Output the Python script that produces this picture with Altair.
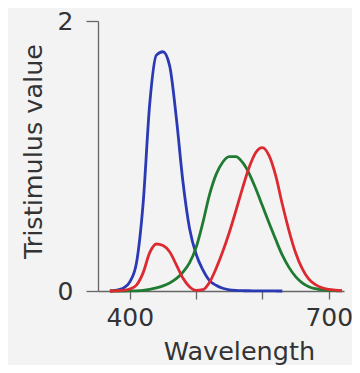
import altair as alt
import pandas as pd

wavelength = [370, 380, 390, 400, 410, 420, 430, 440, 450, 460, 470, 480, 490, 500,
              510, 520, 530, 540, 550, 560, 570, 580, 590, 600, 610, 620, 630, 640,
              650, 660, 670, 680, 690, 700, 710, 720]
x_bar = [0.0, 0.0014, 0.0042, 0.0143, 0.0435, 0.1344, 0.2839, 0.3483, 0.3362, 0.2908,
         0.1954, 0.0956, 0.0320, 0.0049, 0.0093, 0.0633, 0.1655, 0.2904, 0.4334, 0.5945,
         0.7621, 0.9163, 1.0263, 1.0622, 1.0026, 0.8544, 0.6424, 0.4479, 0.2835, 0.1649,
         0.0874, 0.0468, 0.0227, 0.0114, 0.0058, 0.0029]
y_bar = [0.0, 0.0000, 0.0001, 0.0004, 0.0012, 0.0040, 0.0116, 0.0230, 0.0380, 0.0600,
         0.0910, 0.1390, 0.2080, 0.3230, 0.5030, 0.7100, 0.8620, 0.9540, 0.9950, 0.9950,
         0.9520, 0.8700, 0.7570, 0.6310, 0.5030, 0.3810, 0.2650, 0.1750, 0.1070, 0.0610,
         0.0320, 0.0170, 0.0082, 0.0041, 0.0021, 0.0010]
z_bar = [0.0, 0.0065, 0.0201, 0.0679, 0.2074, 0.6456, 1.3856, 1.7471, 1.7721, 1.6692,
         1.2876, 0.8130, 0.4652, 0.2720, 0.1582, 0.0783, 0.0422, 0.0203, 0.0088, 0.0039,
         0.0021, 0.0017, 0.0011, 0.0008, 0.0003, 0.0002, 0.0, None, None, None,
         None, None, None, None, None, None]

rows = []
for name, vals in [("z", z_bar), ("y", y_bar), ("x", x_bar)]:
    for w, v in zip(wavelength, vals):
        if v is not None:
            rows.append({"wavelength": w, "value": v, "curve": name})
df = pd.DataFrame(rows)

FONT = "DejaVu Sans"
TXT = "#333333"

chart = alt.Chart(df).mark_line(strokeWidth=2.8, interpolate="monotone").encode(
    x=alt.X("wavelength:Q",
            scale=alt.Scale(domain=[352, 723], nice=False, zero=False),
            axis=alt.Axis(values=[400, 500, 600, 700], title="Wavelength",
                          labelExpr="datum.value == 400 || datum.value == 700 ? datum.label : ''",
                          grid=False, tickSize=8, labelPadding=6,
                          titleX=141, titleY=68, titleBaseline="alphabetic",
                          titleAlign="center")),
    y=alt.Y("value:Q",
            scale=alt.Scale(domain=[0, 2], nice=False),
            axis=alt.Axis(values=[0, 2], title="Tristimulus value", grid=False,
                          tickSize=12, labelPadding=13,
                          titleX=-57, titleY=130, titleBaseline="alphabetic",
                          titleAlign="center", titleAngle=270)),
    color=alt.Color("curve:N",
                    scale=alt.Scale(domain=["x", "y", "z"],
                                    range=["#dc2a30", "#1f7a32", "#2a3ab4"]),
                    legend=None),
    order=alt.Order("curve:N", sort="descending"),
).properties(
    width=246, height=270,
    background="#f3f3f3",
    padding={"left": 90, "top": 13, "right": 8, "bottom": 74},
    autosize=alt.AutoSizeParams(type="none"),
).configure_view(stroke=None).configure_axis(
    domainColor="#666666", tickColor="#666666", domainWidth=1.3, tickWidth=1.3,
    labelFont=FONT, titleFont=FONT, labelFontSize=25, titleFontSize=25.5,
    labelColor=TXT, titleColor=TXT, titleFontWeight="normal",
)

chart.save("out.html", embed_options={"renderer": "svg", "actions": False})
